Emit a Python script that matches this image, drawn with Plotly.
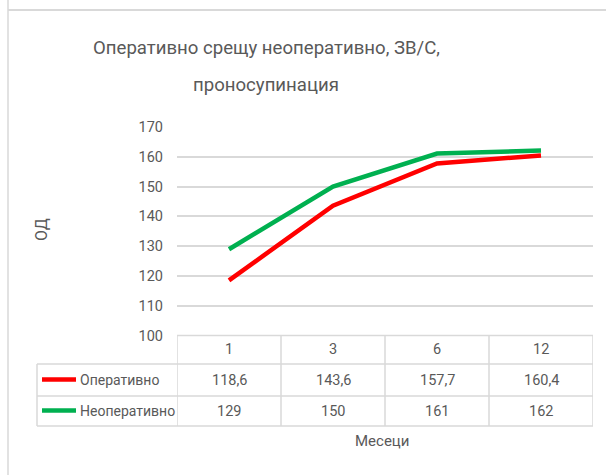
import plotly.graph_objects as go

# ---- data ----
months = ["1", "3", "6", "12"]
series_names = ["Оперативно", "Неоперативно"]
operative = [118.6, 143.6, 157.7, 160.4]
non_operative = [129, 150, 161, 162]
operative_labels = ["118,6", "143,6", "157,7", "160,4"]
non_operative_labels = ["129", "150", "161", "162"]
y_ticks = [100, 110, 120, 130, 140, 150, 160, 170]
title_lines = ["Оперативно срещу неоперативно, ЗВ/С,", "проносупинация"]
x_title = "Месеци"
y_title = "ОД"

W, H = 606, 475
FONT = "Roboto, Liberation Sans, sans-serif"
TXT = "#595959"
GRID = "#D9D9D9"
RED = "#FF0000"
GREEN = "#00B050"


def px(x):
    return x / W


def py(y):
    return 1 - y / H


# plot area in pixels
PL, PR, PT, PB = 177, 593, 126.7, 336
# data table rows (pixel y of borders)
ROW_TOP, ROW1, ROW2, ROW3 = 335.5, 364, 396, 426
TABLE_LEFT = 37

fig = go.Figure()
fig.add_trace(go.Scatter(x=months, y=operative, mode="lines", name=series_names[0],
                         line=dict(color=RED, width=4.5)))
fig.add_trace(go.Scatter(x=months, y=non_operative, mode="lines", name=series_names[1],
                         line=dict(color=GREEN, width=4.5)))

shapes = []
ann = []

# chart frame lines
shapes.append(dict(type="line", xref="paper", yref="paper", x0=px(8), x1=px(8), y0=0, y1=1,
                   line=dict(color=GRID, width=1.5)))
shapes.append(dict(type="line", xref="paper", yref="paper", x0=px(8), x1=1, y0=py(10), y1=py(10),
                   line=dict(color=GRID, width=2)))

# data table borders
bl = dict(color=GRID, width=1.5)
shapes.append(dict(type="line", xref="paper", yref="paper", x0=px(PL), x1=px(PR),
                   y0=py(ROW_TOP), y1=py(ROW_TOP), line=bl))
for yy in (ROW1, ROW2, ROW3):
    shapes.append(dict(type="line", xref="paper", yref="paper", x0=px(TABLE_LEFT), x1=px(PR),
                       y0=py(yy), y1=py(yy), line=bl))
shapes.append(dict(type="line", xref="paper", yref="paper", x0=px(TABLE_LEFT), x1=px(TABLE_LEFT),
                   y0=py(ROW1), y1=py(ROW3), line=bl))
for i in range(len(months) + 1):
    shapes.append(dict(type="line", xref="x", yref="paper", x0=i - 0.5, x1=i - 0.5,
                       y0=py(ROW_TOP), y1=py(ROW3), line=bl))

# legend keys inside the table
row_mid = [(ROW_TOP + ROW1) / 2, (ROW1 + ROW2) / 2, (ROW2 + ROW3) / 2]
for name, color, ym in ((series_names[0], RED, row_mid[1]), (series_names[1], GREEN, row_mid[2])):
    shapes.append(dict(type="line", xref="paper", yref="paper", x0=px(42), x1=px(76),
                       y0=py(ym - 0.5), y1=py(ym - 0.5), line=dict(color=color, width=4.5)))
    ann.append(dict(text=name, xref="paper", yref="paper", x=px(78), y=py(ym),
                    xanchor="left", yanchor="middle", showarrow=False,
                    font=dict(family=FONT, size=14, color=TXT)))

# header and value cells (x given as category index)
for i, m in enumerate(months):
    for txt, ym in ((m, row_mid[0]), (operative_labels[i], row_mid[1]),
                    (non_operative_labels[i], row_mid[2])):
        ann.append(dict(text=txt, xref="x", yref="paper", x=i, y=py(ym),
                        xanchor="center", yanchor="middle", showarrow=False,
                        font=dict(family=FONT, size=14.5, color=TXT)))

# titles
for line, yc in zip(title_lines, (48, 85)):
    ann.append(dict(text=line, xref="paper", yref="paper", x=px(266), y=py(yc),
                    xanchor="center", yanchor="middle", showarrow=False,
                    font=dict(family=FONT, size=18.6, color=TXT)))
ann.append(dict(text=x_title, xref="paper", yref="paper", x=px(382), y=py(441),
                xanchor="center", yanchor="middle", showarrow=False,
                font=dict(family=FONT, size=15, color=TXT)))
ann.append(dict(text=y_title, xref="paper", yref="paper", x=px(42), y=py(230),
                xanchor="center", yanchor="middle", showarrow=False, textangle=-90,
                font=dict(family=FONT, size=16, color=TXT)))

fig.update_layout(
    width=W, height=H,
    margin=dict(l=0, r=0, t=0, b=0, pad=0),
    autosize=False,
    paper_bgcolor="white", plot_bgcolor="white",
    showlegend=False,
    shapes=shapes, annotations=ann,
    xaxis=dict(domain=[px(PL), px(PR)], type="category", range=[-0.5, 3.5], automargin=False,
               showticklabels=False, showgrid=False, zeroline=False, showline=False),
    yaxis=dict(domain=[py(PB), py(PT)], range=[100, 170], tickvals=y_ticks, automargin=False,
               showgrid=True, gridcolor=GRID, gridwidth=1.5, zeroline=False, showline=False,
               ticks="", ticklabelstandoff=13,
               tickfont=dict(family=FONT, size=14.5, color=TXT)),
)

fig.write_html("out.html")
